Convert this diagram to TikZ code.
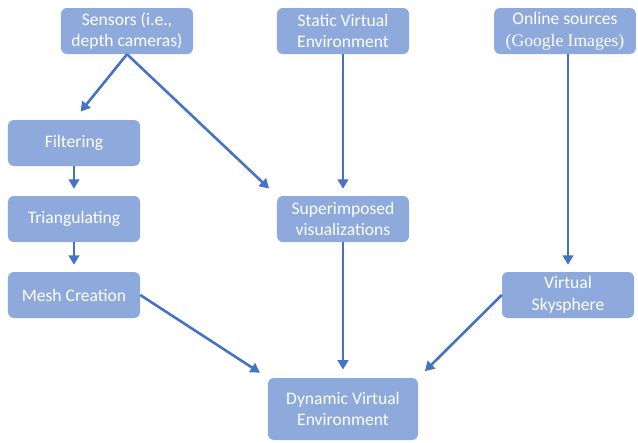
\documentclass[tikz,border=0pt]{standalone}
\usepackage{fontspec}
\setmainfont{Carlito}
\newfontfamily\serifpart{Liberation Serif}
\usetikzlibrary{arrows.meta}
\definecolor{boxfill}{HTML}{8EA9DB}
\definecolor{arrowblue}{HTML}{4472C4}
\begin{document}
\begin{tikzpicture}[x=0.03cm,y=-0.03cm,
        stepbox/.style={rectangle,rounded corners=5pt,fill=boxfill,text=white,
            minimum width=3.96cm,minimum height=1.38cm,align=center,
            font=\fontsize{15}{18.5}\selectfont,inner sep=1pt},
        flow/.style={draw=arrowblue,line width=2.2pt,-{Triangle[length=8pt,width=9pt]}}]
    \useasboundingbox (0,0) rectangle (638,442);
    % top row
    \node[stepbox] (sens) at (127,31) {Sensors (i.e.,\\depth cameras)};
    \node[stepbox] (stat) at (343,31) {Static Virtual\\Environment};
    \node[stepbox,minimum width=4.25cm] (onl) at (565,31) {Online sources\\{\serifpart (Google Images)}};
    % left column
    \node[stepbox] (filt) at (74,143) {Filtering};
    \node[stepbox] (tri) at (74,219) {Triangulating};
    \node[stepbox] (mesh) at (74,295) {Mesh Creation};
    % middle and right
    \node[stepbox] (sup) at (343,219) {Superimposed\\visualizations};
    \node[stepbox] (sky) at (568,295) {Virtual\\Skysphere};
    \node[stepbox,minimum width=4.5cm,minimum height=1.86cm] (dyn) at (343,409) {Dynamic Virtual\\Environment};
    % connectors
    \draw[flow,shorten >=9pt] (sens.south) -- (filt.north);
    \draw[flow,shorten >=9pt] (sens.south) -- (sup.north west);
    \draw[flow,shorten >=6pt] (stat.south) -- (sup.north);
    \draw[flow,shorten >=6pt] (sky.north |- onl.south) -- (sky.north);
    \draw[flow,shorten >=6pt] (filt.south) -- (tri.north);
    \draw[flow,shorten >=6pt] (tri.south) -- (mesh.north);
    \draw[flow,shorten >=7pt] (sup.south) -- (dyn.north);
    \draw[flow,shorten >=8pt] (mesh.east) -- (dyn.north west);
    \draw[flow,shorten >=8pt] (sky.west) -- (dyn.north east);
\end{tikzpicture}
\end{document}
